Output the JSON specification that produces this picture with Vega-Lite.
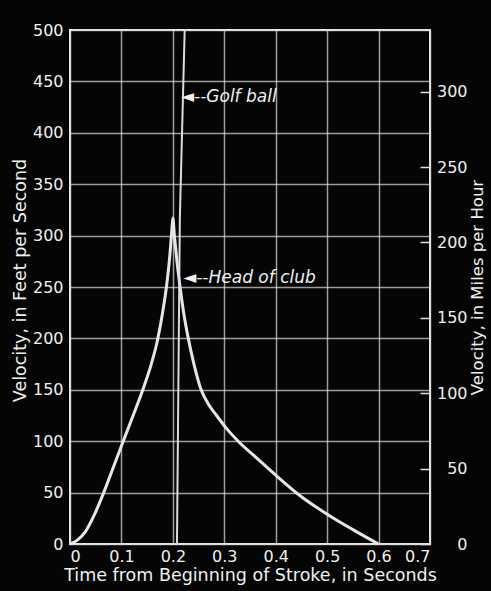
{
  "$schema": "https://vega.github.io/schema/vega-lite/v6.json",
  "width": 360,
  "height": 514,
  "autosize": {"type": "none"},
  "padding": {"left": 70, "top": 30, "right": 61, "bottom": 47},
  "background": "#050505",
  "config": {
    "view": {"stroke": "#e8e8e8", "strokeWidth": 2},
    "font": "DejaVu Sans",
    "axis": {
      "labelColor": "#f0f0f0",
      "titleColor": "#f0f0f0",
      "labelFont": "DejaVu Sans",
      "titleFont": "DejaVu Sans",
      "labelFontSize": 16,
      "titleFontSize": 17.5,
      "titleFontWeight": "normal",
      "domain": false,
      "ticks": false,
      "gridColor": "#d8d8d8",
      "gridWidth": 1.5,
      "gridOpacity": 0.72
    }
  },
  "datasets": {
    "club": [
      {"t": 0, "v": 0}, {"t": 0.015, "v": 4}, {"t": 0.03, "v": 12}, {"t": 0.047, "v": 28},
      {"t": 0.064, "v": 48}, {"t": 0.083, "v": 73}, {"t": 0.102, "v": 98}, {"t": 0.122, "v": 124},
      {"t": 0.143, "v": 152}, {"t": 0.158, "v": 175}, {"t": 0.17, "v": 198}, {"t": 0.18, "v": 225},
      {"t": 0.188, "v": 252}, {"t": 0.194, "v": 280}, {"t": 0.198, "v": 305}, {"t": 0.2, "v": 317},
      {"t": 0.203, "v": 300}, {"t": 0.208, "v": 275}, {"t": 0.214, "v": 250}, {"t": 0.221, "v": 225},
      {"t": 0.23, "v": 200}, {"t": 0.241, "v": 175}, {"t": 0.255, "v": 150}, {"t": 0.268, "v": 137},
      {"t": 0.285, "v": 125}, {"t": 0.305, "v": 112}, {"t": 0.327, "v": 100}, {"t": 0.36, "v": 85},
      {"t": 0.4, "v": 67}, {"t": 0.45, "v": 46}, {"t": 0.5, "v": 29}, {"t": 0.55, "v": 14},
      {"t": 0.6, "v": 0}
    ],
    "ball": [
      {"t": 0.208, "v": 0}, {"t": 0.2136, "v": 317}, {"t": 0.223, "v": 500}
    ],
    "notes": [
      {"t": 0.2158, "v": 435, "label": "◄--Golf ball"},
      {"t": 0.22, "v": 259, "label": "◄--Head of club"}
    ]
  },
  "layer": [
    {
      "data": {"name": "club"},
      "mark": {"type": "line", "color": "#e6e6e6", "strokeWidth": 3, "interpolate": "monotone"},
      "encoding": {
        "x": {
          "field": "t", "type": "quantitative",
          "scale": {"domain": [0, 0.7], "nice": false},
          "axis": {
            "values": [0, 0.1, 0.2, 0.3, 0.4, 0.5, 0.6, 0.7],
            "labelExpr": "datum.value == 0 ? '0' : format(datum.value, '.1f')",
            "grid": true,
            "labelPadding": 4,
            "title": "Time from Beginning of Stroke, in Seconds",
            "titleX": 180, "titleY": 31, "titleBaseline": "middle", "titleAlign": "center"
          }
        },
        "y": {
          "field": "v", "type": "quantitative",
          "scale": {"domain": [0, 500], "nice": false},
          "axis": {
            "orient": "left",
            "values": [0, 50, 100, 150, 200, 250, 300, 350, 400, 450, 500],
            "grid": true,
            "labelPadding": 7,
            "title": "Velocity, in Feet per Second",
            "titleAngle": -90, "titleX": -50, "titleY": 250,
            "titleBaseline": "middle", "titleAlign": "center"
          }
        }
      }
    },
    {
      "data": {"name": "ball"},
      "mark": {"type": "line", "color": "#dcdcdc", "strokeWidth": 2},
      "encoding": {
        "x": {"field": "t", "type": "quantitative", "axis": null},
        "y": {
          "field": "v", "type": "quantitative",
          "axis": {
            "orient": "right",
            "values": [0, 73.3333, 146.6667, 220, 293.3333, 366.6667, 440],
            "labelExpr": "format(datum.value * 15 / 22, '.0f')",
            "grid": false,
            "ticks": true, "tickSize": -10, "tickColor": "#e0e0e0", "tickWidth": 1.5,
            "labelAlign": "right",
            "labelPadding": 47,
            "title": "Velocity, in Miles per Hour",
            "titleFontSize": 16.5,
            "titleAngle": -90, "titleX": 47, "titleY": 257,
            "titleBaseline": "middle", "titleAlign": "center"
          }
        }
      }
    },
    {
      "data": {"name": "notes"},
      "mark": {"type": "text", "align": "left", "baseline": "middle", "fontStyle": "italic", "fontSize": 17, "color": "#f0f0f0", "font": "DejaVu Sans"},
      "encoding": {
        "x": {"field": "t", "type": "quantitative", "axis": null},
        "y": {"field": "v", "type": "quantitative", "axis": null},
        "text": {"field": "label"}
      }
    }
  ],
  "resolve": {"axis": {"x": "independent", "y": "independent"}}
}
